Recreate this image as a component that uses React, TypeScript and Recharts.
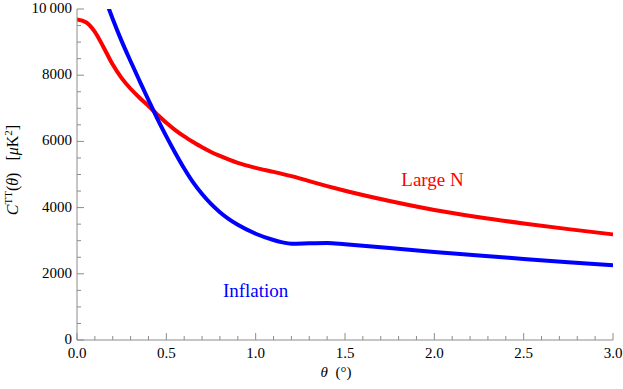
import { LineChart, Line, XAxis, YAxis, ReferenceDot, Label } from 'recharts';

// angular correlation C^TT(theta)
const largeNTheta = [0, 0.05, 0.1, 0.15, 0.2, 0.25, 0.3, 0.35, 0.4, 0.45, 0.5, 0.55, 0.6, 0.65, 0.7, 0.75, 0.8, 0.9, 1.0, 1.1, 1.2, 1.3, 1.4, 1.5, 1.75, 2.0, 2.25, 2.5, 2.75, 3.0];
const largeNValues = [9680, 9600, 9310, 8830, 8320, 7910, 7590, 7320, 7070, 6810, 6560, 6340, 6150, 5980, 5820, 5680, 5560, 5350, 5200, 5080, 4950, 4800, 4650, 4510, 4200, 3930, 3710, 3520, 3350, 3190];

const inflationTheta = [0.15, 0.2, 0.25, 0.3, 0.35, 0.4, 0.45, 0.5, 0.55, 0.6, 0.65, 0.7, 0.75, 0.8, 0.85, 0.9, 1.0, 1.1, 1.15, 1.2, 1.3, 1.4, 1.5, 1.75, 2.0, 2.25, 2.5, 2.75, 3.0];
const inflationValues = [10420, 9700, 9030, 8420, 7830, 7250, 6680, 6150, 5650, 5180, 4760, 4410, 4110, 3860, 3650, 3480, 3210, 3020, 2950, 2910, 2920, 2930, 2890, 2780, 2660, 2550, 2450, 2350, 2260];

const xMajorTicks = [0, 0.5, 1.0, 1.5, 2.0, 2.5, 3.0];
const xTickLabels = ['0.0', '0.5', '1.0', '1.5', '2.0', '2.5', '3.0'];
const yMajorTicks = [0, 2000, 4000, 6000, 8000, 10000];
const yTickLabels = ['0', '2000', '4000', '6000', '8000', '10\u2009000'];

// minor tick positions (every 0.1 on x, every 500 on y)
const xAllTicks = Array.from({ length: 31 }, (_, i) => i / 10);
const yAllTicks = Array.from({ length: 21 }, (_, i) => i * 500);

const largeNData = largeNTheta.map((t, i) => ({ theta: t, value: largeNValues[i] }));
const inflationData = inflationTheta.map((t, i) => ({ theta: t, value: inflationValues[i] }));

const AXIS = '#8c8c8c';
const serif = { fontFamily: 'Liberation Serif' };

const isMajorX = (v: number) => xMajorTicks.some((m) => Math.abs(m - v) < 1e-6);
const isMajorY = (v: number) => yMajorTicks.includes(v);

const BottomTick = (props: any) => {
  const { x, y, payload } = props;
  const v = payload.value;
  const major = isMajorX(v);
  const idx = xMajorTicks.findIndex((m) => Math.abs(m - v) < 1e-6);
  return (
    <g>
      <line x1={x} y1={y} x2={x} y2={y - (major ? 7 : 4)} stroke={AXIS} strokeWidth={1} />
      {major && (
        <text x={x} y={y + 18} textAnchor="middle" style={serif} fontSize={15} fill="#000">
          {xTickLabels[idx]}
        </text>
      )}
    </g>
  );
};

const TopTick = (props: any) => {
  const { x, y, payload } = props;
  const major = isMajorX(payload.value);
  return <line x1={x} y1={y} x2={x} y2={y + (major ? 7 : 4)} stroke={AXIS} strokeWidth={1} />;
};

const LeftTick = (props: any) => {
  const { x, y, payload } = props;
  const v = payload.value;
  const major = isMajorY(v);
  return (
    <g>
      <line x1={x} y1={y} x2={x + (major ? 7 : 4)} y2={y} stroke={AXIS} strokeWidth={1} />
      {major && (
        <text x={x - 5} y={y + 4} textAnchor="end" style={serif} fontSize={15} fill="#000">
          {yTickLabels[yMajorTicks.indexOf(v)]}
        </text>
      )}
    </g>
  );
};

const RightTick = (props: any) => {
  const { x, y, payload } = props;
  const major = isMajorY(payload.value);
  return <line x1={x} y1={y} x2={x - (major ? 7 : 4)} y2={y} stroke={AXIS} strokeWidth={1} />;
};

const YTitle = () => (
  <text
    x={0}
    y={0}
    transform="translate(18, 170) rotate(-90)"
    style={serif}
    fontSize={16}
    fill="#000"
    textAnchor="middle"
  >
    <tspan fontStyle="italic">C</tspan>
    <tspan fontSize={11} dy={-6}>TT</tspan>
    <tspan dy={6}>(</tspan>
    <tspan fontStyle="italic">θ</tspan>
    <tspan>{')\u00A0\u00A0\u00A0['}</tspan>
    <tspan fontStyle="italic">μ</tspan>
    <tspan>K</tspan>
    <tspan fontSize={11} dy={-6}>2</tspan>
    <tspan dy={6}>]</tspan>
  </text>
);

const XTitle = (props: any) => {
  const { viewBox } = props;
  const cx = viewBox.x + viewBox.width / 2 - 9;
  return (
    <text x={cx} y={viewBox.y + 37} textAnchor="middle" style={serif} fontSize={15} fill="#000">
      <tspan fontStyle="italic">θ</tspan>
      <tspan>{'\u00A0\u00A0(°)'}</tspan>
    </text>
  );
};

export default function App() {
  return (
    <div style={{ position: 'absolute', left: 0, top: 0, width: 623, height: 389, background: '#fff' }}>
      <LineChart width={623} height={389} margin={{ top: 9, right: 10, left: 0, bottom: 0 }}>
        <XAxis
          xAxisId={0}
          dataKey="theta"
          type="number"
          domain={[0, 3]}
          ticks={xAllTicks}
          interval={0}
          tickSize={0}
          tickMargin={0}
          tickLine={false}
          tick={<BottomTick />}
          height={49}
          stroke={AXIS}
          allowDataOverflow
        >
          <Label content={<XTitle />} />
        </XAxis>
        <XAxis
          xAxisId="top"
          orientation="top"
          dataKey="theta"
          type="number"
          domain={[0, 3]}
          ticks={xAllTicks}
          interval={0}
          tickSize={0}
          tickMargin={0}
          tickLine={false}
          tick={<TopTick />}
          height={0}
          stroke={AXIS}
        />
        <YAxis
          yAxisId={0}
          type="number"
          domain={[0, 10000]}
          ticks={yAllTicks}
          interval={0}
          tickSize={0}
          tickMargin={0}
          tickLine={false}
          tick={<LeftTick />}
          width={77}
          stroke={AXIS}
          allowDataOverflow
        >
          <Label content={<YTitle />} />
        </YAxis>
        <YAxis
          yAxisId="right"
          orientation="right"
          type="number"
          domain={[0, 10000]}
          ticks={yAllTicks}
          interval={0}
          tickSize={0}
          tickMargin={0}
          tickLine={false}
          tick={<RightTick />}
          width={0}
          stroke={AXIS}
        />
        <Line
          data={largeNData}
          dataKey="value"
          type="monotone"
          stroke="#ff0000"
          strokeWidth={4}
          dot={false}
          isAnimationActive={false}
        />
        <Line
          data={inflationData}
          dataKey="value"
          type="monotone"
          stroke="#0000ff"
          strokeWidth={4}
          dot={false}
          isAnimationActive={false}
        />
        <ReferenceDot
          x={1.99}
          y={4850}
          r={0}
          label={{ value: 'Large N', fill: '#ff0000', fontSize: 19, style: serif, position: 'center' }}
        />
        <ReferenceDot
          x={1.0}
          y={1500}
          r={0}
          label={{ value: 'Inflation', fill: '#0000ff', fontSize: 19, style: serif, position: 'center' }}
        />
      </LineChart>
    </div>
  );
}
